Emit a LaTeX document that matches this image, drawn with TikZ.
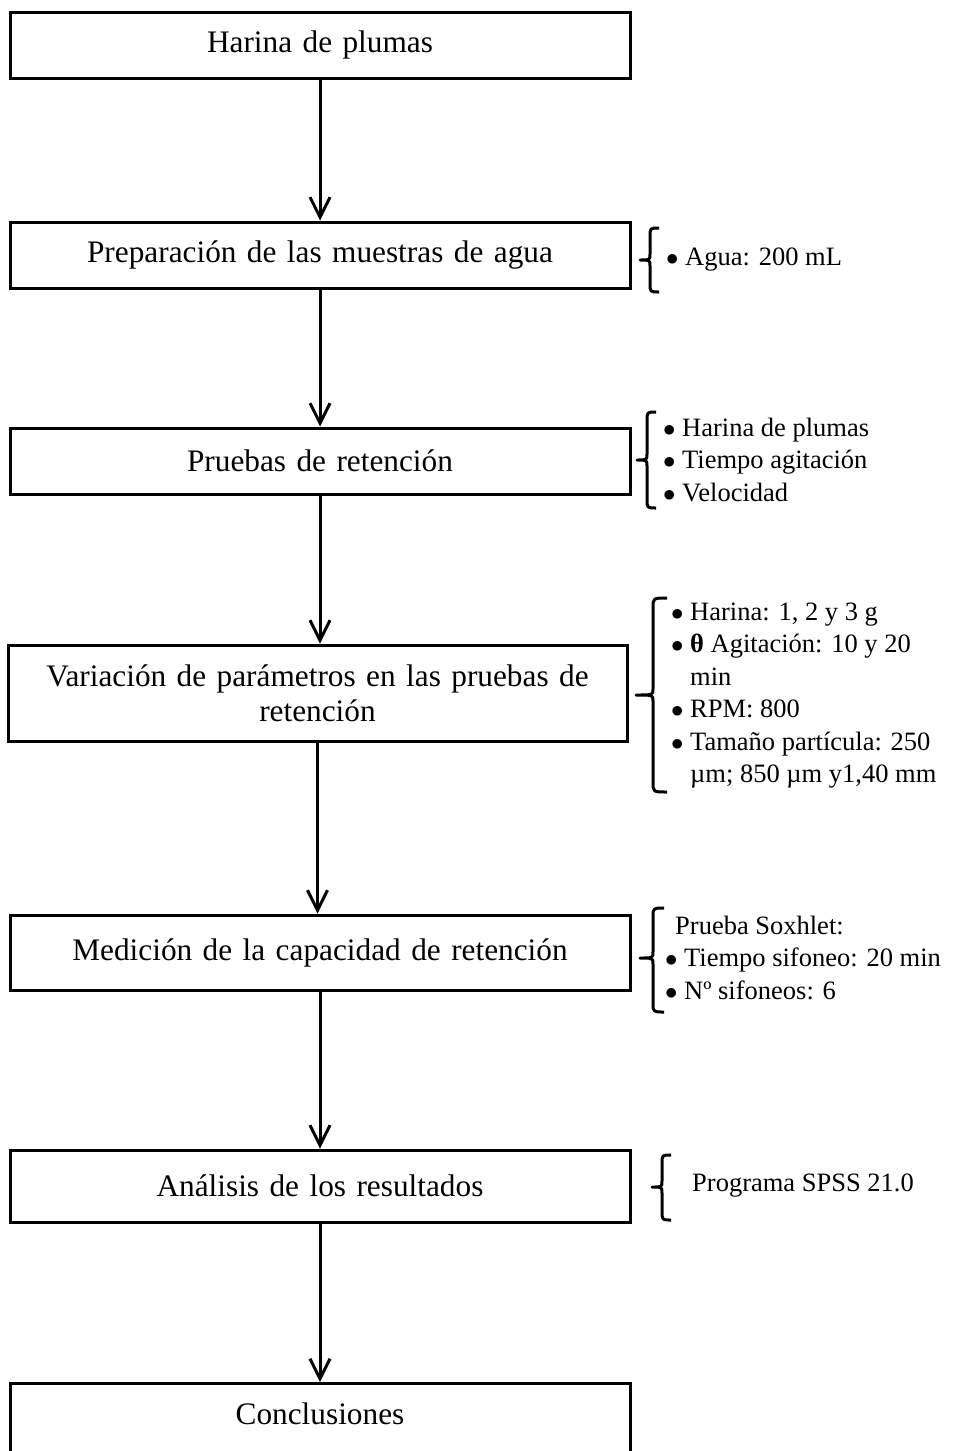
\documentclass[tikz,border=0pt]{standalone}
\usepackage{fontspec}
\setmainfont{Liberation Serif}
\usetikzlibrary{arrows.meta}

\newcommand{\vineta}{\makebox[19pt][l]{$\bullet$}}
\newcommand{\sangria}{\hspace*{19pt}}

\tikzset{
  caja/.style={draw, line width=3pt, minimum width=620pt, minimum height=66pt,
    text width=600pt, align=center, inner sep=0pt, font=\fontsize{31.3}{35}\selectfont},
  flecha/.style={line width=3pt, -{Straight Barb[length=20pt, width=20pt]}},
  llave/.style={line width=3pt, line join=round},
  lista/.style={anchor=west, align=left, inner sep=0pt, font=\fontsize{26.5}{32.5}\selectfont}
}

\begin{document}
\begin{tikzpicture}[x=1pt, y=-1pt]

    \clip (0,0) rectangle (954,1451);

    % pasos del proceso
    \node[caja] (harina) at (320,45) {Harina de plumas};
    \node[caja] (muestras) at (320,255) {Preparación de las muestras de agua};
    \node[caja] (pruebas) at (320,461) {Pruebas de retención};
    \node[caja, minimum width=619pt, minimum height=96pt] (variacion) at (317.5,693)
        {Variación de parámetros en las pruebas de\\retención};
    \node[caja, minimum height=75pt] (medicion) at (320,952.5) {Medición de la capacidad de retención};
    \node[caja, minimum height=72pt] (analisis) at (320,1186) {Análisis de los resultados};
    \node[caja, minimum height=70pt, text depth=10pt] (conclusiones) at (320,1418.5) {Conclusiones};

    \draw[flecha] (harina) -- (muestras);
    \draw[flecha] (muestras) -- (pruebas);
    \draw[flecha] (pruebas.south) -- (pruebas.south |- variacion.north);
    \draw[flecha] (variacion.south) -- (variacion.south |- medicion.north);
    \draw[flecha] (medicion.south) -- (medicion.south |- analisis.north);
    \draw[flecha] (analisis) -- (conclusiones);

    % llaves
    \draw[llave] (659,228) .. controls (650,228) .. (650,237) -- (650,254)
        .. controls (650,260) .. (640,260) .. controls (650,260) .. (650,266)
        -- (650,283) .. controls (650,292) .. (659,292);
    \draw[llave] (656,412) .. controls (647,412) .. (647,421) -- (647,454)
        .. controls (647,460) .. (637,460) .. controls (647,460) .. (647,466)
        -- (647,499) .. controls (647,508) .. (656,508);
    \draw[llave] (667,598) .. controls (653,598) .. (653,608) -- (653,689)
        .. controls (653,695) .. (636,695) .. controls (653,695) .. (653,701)
        -- (653,782) .. controls (653,792) .. (667,792);
    \draw[llave] (664,908) .. controls (653,908) .. (653,917) -- (653,952)
        .. controls (653,958) .. (640,958) .. controls (653,958) .. (653,964)
        -- (653,1003) .. controls (653,1012) .. (664,1012);
    \draw[llave] (671,1155) .. controls (662,1155) .. (662,1164) -- (662,1181)
        .. controls (662,1187) .. (652,1187) .. controls (662,1187) .. (662,1193)
        -- (662,1211) .. controls (662,1220) .. (671,1220);

    % listas
    \node[lista] (agua) at (666,260) {\vineta Agua: 200 mL};
    \node[lista] (factores) at (663,460) {\vineta Harina de plumas\\\vineta Tiempo agitación\\\vineta Velocidad};
    \node[lista] (parametros) at (671,695.5) {\vineta Harina: 1, 2 y 3 g\\
        \vineta\textbf{θ} Agitación: 10 y 20\\\sangria min\\\vineta RPM: 800\\
        \vineta Tamaño partícula: 250\\\sangria µm; 850 µm y1,40 mm};
    \node[lista] (soxhlet) at (665,957.5) {\hspace*{10pt}Prueba Soxhlet:\\\vineta Tiempo sifoneo: 20 min\\\vineta Nº sifoneos: 6};
    \node[lista] (spss) at (692,1186) {Programa SPSS 21.0};

\end{tikzpicture}
\end{document}
